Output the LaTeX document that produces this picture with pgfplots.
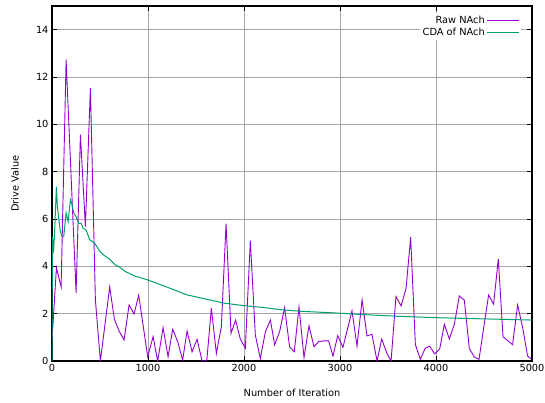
\documentclass[border=0pt]{standalone}
\usepackage{fontspec}
\setmainfont{DejaVu Sans}
\usepackage{pgfplots}
\pgfplotsset{compat=1.18}
\definecolor{rawc}{HTML}{9400D3}
\definecolor{cdac}{HTML}{009E73}
\begin{document}
\begin{tikzpicture}
\path[use as bounding box] (-52bp,-42bp) rectangle (493bp,361bp);
\begin{axis}[
 at={(0,0)}, anchor=south west, scale only axis,
 width=480bp, height=355bp,
 xmin=0, xmax=5000, ymin=0, ymax=15,
 xtick={0,1000,...,5000}, ytick={0,2,...,14},
 /pgf/number format/assume math mode=true,
 /pgf/number format/1000 sep={},
 scaled x ticks=false,
 grid=major, major grid style={line width=0.6bp, color=black!35},
 axis line style={line width=1.2bp},
 tick style={black, line width=0.8bp}, major tick length=5bp,
 tick label style={font=\fontsize{9.8bp}{11bp}\selectfont},
 label style={font=\fontsize{9.8bp}{11bp}\selectfont},
 xlabel={Number of Iteration}, ylabel={Drive Value},
 xlabel style={at={(axis description cs:0.5,-0.0901)}, anchor=center},
 ylabel style={at={(axis description cs:-0.0771,0.5)}, anchor=center},
 legend style={at={(axis description cs:0.977,0.982)}, anchor=north east, draw=none, fill=white,
   font=\fontsize{9.8bp}{11bp}\selectfont, inner sep=1bp, row sep=0bp, cells={anchor=east}},
 legend plot pos=right,
 legend image code/.code={\draw[#1] (0bp,0bp) -- (32bp,0bp);},
]
\addplot[rawc, line width=0.9bp] coordinates {
(0,0.89) (46,3.93) (95,3.14) (147,12.73) (251,2.88) (296,9.56) (348,5.68) (400,11.54)
(452,2.58) (504,0) (601,3.13) (650,1.76) (702,1.24) (751,0.89) (803,2.37) (855,1.99)
(903,2.78) (997,0.18) (1053,1.03) (1101,0) (1157,1.41) (1209,0.18) (1257,1.34) (1309,0.82)
(1361,0.04) (1407,1.27) (1459,0.39) (1511,0.92) (1563,0) (1612,0) (1660,2.23) (1712,0.32)
(1764,1.45) (1813,5.8) (1865,1.17) (1913,1.73) (1962,0.92) (2014,0.54) (2066,5.09) (2118,1.1)
(2170,0.11) (2223,1.24) (2275,1.73) (2319,0.68) (2371,1.24) (2423,2.25) (2475,0.6) (2524,0.39)
(2573,2.28) (2625,0.15) (2677,1.48) (2729,0.6) (2778,0.82) (2830,0.85) (2882,0.85) (2927,0.21)
(2976,1.07) (3031,0.58) (3125,2.12) (3177,0.63) (3230,2.58) (3281,1.06) (3333,1.13) (3386,0)
(3434,0.93) (3486,0.35) (3532,0) (3583,2.72) (3636,2.33) (3688,3.07) (3736,5.23) (3785,0.7)
(3837,0.07) (3886,0.53) (3934,0.63) (3986,0.3) (4038,0.5) (4087,1.55) (4139,0.93) (4191,1.55)
(4243,2.75) (4295,2.57) (4347,0.53) (4399,0.17) (4448,0.07) (4548,2.79) (4600,2.4) (4649,4.31)
(4698,1.02) (4798,0.69) (4850,2.37) (4902,1.43) (4954,0.21) (4995,0.08)
};
\addlegendentry{Raw NAch}
\addplot[cdac, line width=1bp] coordinates {
(0,0) (3,3.5) (7,5.26) (12,4.6) (18,4.7) (28,5.54) (46,7.37) (56,6.53) (70,6.03) (87,5.47)
(105,5.26) (122,5.26) (147,6.25) (168,5.89) (192,6.81) (209,6.6) (226,6.25) (251,6.1)
(278,5.82) (303,5.82) (324,5.61) (355,5.54) (393,5.12) (445,4.98) (500,4.62) (538,4.48)
(600,4.3) (660,4.06) (700,3.98) (764,3.78) (800,3.71) (869,3.58) (900,3.55) (1000,3.42)
(1200,3.12) (1400,2.8) (1600,2.62) (1800,2.44) (2000,2.34) (2200,2.26) (2400,2.16)
(2600,2.1) (2800,2.06) (3000,2.02) (3200,1.97) (3400,1.93) (3600,1.89) (3800,1.86)
(4000,1.83) (4200,1.81) (4400,1.79) (4600,1.77) (4800,1.75) (5000,1.73)
};
\addlegendentry{CDA of NAch}
\end{axis}
\end{tikzpicture}
\end{document}
